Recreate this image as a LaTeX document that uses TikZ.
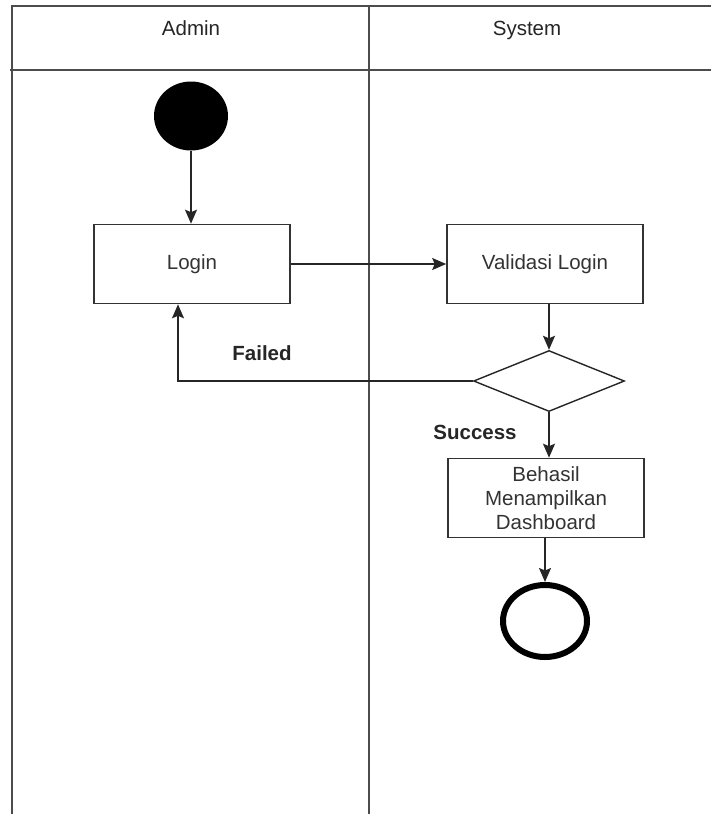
\documentclass[tikz,border=0pt]{standalone}
\usepackage{fontspec}
\setmainfont{Liberation Sans}
\usetikzlibrary{shapes.geometric,arrows.meta}

\tikzset{
  lane/.style={draw=black!70, line width=1.6pt},
  lanehead/.style={font=\fontsize{20.5}{24}\selectfont, text=black!85, anchor=base},
  action/.style={draw=black!80, line width=1.6pt, rectangle, minimum width=196pt, minimum height=79pt,
    align=center, font=\fontsize{20.5}{24}\selectfont, text=black!80, inner sep=0pt},
  decision/.style={draw=black!85, line width=1.4pt, diamond, aspect=2.45, minimum width=151pt,
    minimum height=61pt, inner sep=0pt},
  startdot/.style={fill=black, ellipse, minimum width=74pt, minimum height=69pt, inner sep=0pt},
  enddot/.style={draw=black, line width=6pt, ellipse, minimum width=84pt, minimum height=72pt, inner sep=0pt},
  flow/.style={draw=black!85, line width=1.5pt, -{Stealth[length=14pt,width=12pt,inset=2.5pt]}},
  guard/.style={font=\bfseries\fontsize{20.5}{24}\selectfont, text=black!85}
}

\begin{document}
\begin{tikzpicture}[x=1pt,y=-1pt]
\useasboundingbox (0,0) rectangle (711,814);
\fill[white] (0,0) rectangle (711,814);

% swimlane frame
\draw[lane] (12,814) -- (12,6) -- (711,6);
\draw[lane] (10,70) -- (711,70);
\draw[lane] (369,6) -- (369,814);
\node[lanehead] (admin) at (191,35) {Admin};
\node[lanehead] (system) at (527,35) {System};

% activity nodes
\node[startdot] (start) at (191,116) {};
\node[action] (login) at (192,264) {Login};
\node[action] (valid) at (545,264) {Validasi Login};
\node[decision] (check) at (549,381) {};
\node[action] (dash) at (546,498) {Behasil\\Menampilkan\\Dashboard};
\node[enddot] (finish) at (545,621) {};
\coordinate (turn) at (178,381);

% transitions
\draw[flow] (start) -- (start |- login.north);
\draw[flow] (login) -- (valid);
\draw[flow] (valid.south -| check.north) -- (check.north);
\draw[flow] (check.west) -- (turn) -- (turn |- login.south);
\draw[flow] (check.south) -- (check.south |- dash.north);
\draw[flow] (dash.south -| finish.north) -- (finish.north);

% guards
\node[guard] (failed) at (262,353) {Failed};
\node[guard] (success) at (475,432) {Success};
\end{tikzpicture}
\end{document}
